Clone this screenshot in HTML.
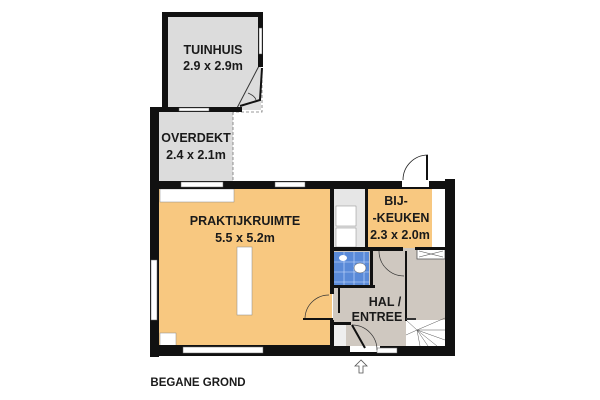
<!DOCTYPE html>
<html><head><style>
body{margin:0;background:#fff;}
svg{display:block}
text{font-family:"Liberation Sans",sans-serif;font-weight:bold;font-size:12.5px;fill:#1a1a1a;text-anchor:middle}
</style></head><body>
<svg width="600" height="400" viewBox="0 0 600 400">
<!-- Tuinhuis -->
<rect x="165" y="14" width="96" height="96" fill="#dcdcdc"/>
<path d="M262 70 L262 112 L233 112" fill="none" stroke="#777" stroke-dasharray="3,2" stroke-width="0.8"/>
<path d="M237 108 L260 64" stroke="#333" stroke-width="1"/>
<path d="M240 106 L260 100 L262 68" fill="none" stroke="#111" stroke-width="2"/>
<path d="M248 93 Q255 96 256 100" fill="none" stroke="#333" stroke-width="0.8"/>
<rect x="162" y="12" width="100" height="5" fill="#111"/>
<rect x="162" y="12" width="6" height="100" fill="#111"/>
<rect x="258" y="12" width="5" height="55" fill="#111"/>
<rect x="259" y="28" width="3" height="26" fill="#fff" stroke="#555" stroke-width="0.5"/>
<rect x="150" y="107" width="92" height="5" fill="#111"/>
<rect x="179" y="108" width="30" height="3" fill="#fff" stroke="#666" stroke-width="0.5"/>
<!-- Overdekt -->
<rect x="159" y="112" width="74" height="70" fill="#dcdcdc"/>
<line x1="233" y1="112" x2="233" y2="182" stroke="#777" stroke-dasharray="3,2" stroke-width="0.8"/>
<rect x="150" y="107" width="9" height="250" fill="#111"/>
<!-- Praktijk -->
<rect x="159" y="189" width="173" height="157" fill="#f8c880"/>
<rect x="160" y="189" width="74" height="13" fill="#fff" stroke="#888" stroke-width="0.5"/>
<rect x="160" y="333" width="16" height="13" fill="#fff" stroke="#888" stroke-width="0.5"/>
<rect x="237" y="247" width="15" height="68" fill="#fff" stroke="#888" stroke-width="0.5"/>
<!-- top wall -->
<rect x="150" y="181" width="305" height="8" fill="#111"/>
<rect x="181" y="182" width="42" height="5" fill="#fff" stroke="#666" stroke-width="0.5"/>
<rect x="275" y="182" width="30" height="5" fill="#fff" stroke="#666" stroke-width="0.5"/>
<rect x="402" y="179" width="27" height="8" fill="#fff"/>
<path d="M428 155 A25 25 0 0 0 403 180" fill="none" stroke="#222" stroke-width="0.8"/>
<rect x="426" y="155" width="2" height="25" fill="#111"/>
<!-- left window -->
<rect x="151" y="260" width="6" height="60" fill="#fff" stroke="#666" stroke-width="0.5"/>
<!-- bottom wall -->
<rect x="150" y="345" width="305" height="11" fill="#111"/>
<rect x="183" y="347" width="80" height="6" fill="#fff" stroke="#666" stroke-width="0.5"/>
<rect x="350" y="346" width="30" height="6" fill="#fff"/>
<rect x="377" y="348" width="20" height="5" fill="#fff" stroke="#666" stroke-width="0.5"/>
<!-- right area -->
<rect x="333" y="189" width="112" height="157" fill="#cfc8c0"/>
<rect x="333" y="189" width="33" height="60" fill="#e6e6e6"/>
<rect x="336" y="206" width="20" height="20" fill="#fff" stroke="#888" stroke-width="0.5"/>
<rect x="336" y="228" width="20" height="19" fill="#fff" stroke="#888" stroke-width="0.5"/>
<rect x="367" y="189" width="65" height="59" fill="#f8c880"/>
<rect x="432" y="189" width="13" height="60" fill="#fff"/>
<rect x="417" y="249" width="28" height="10" fill="#fff" stroke="#555" stroke-width="0.8"/>
<path d="M419 251 L443 257 M419 257 L443 251" stroke="#555" stroke-width="0.6"/>
<rect x="334" y="252" width="35" height="34" fill="#5a8ad8"/>
<path d="M334 262h35M334 272h35M334 282h35M344 252v34M354 252v34M364 252v34" stroke="#cfe0ff" stroke-width="0.6"/>
<ellipse cx="343" cy="258" rx="4" ry="3" fill="#fff"/>
<ellipse cx="360" cy="268" rx="6" ry="5" fill="#fff" stroke="#555" stroke-width="0.5"/>
<rect x="406" y="320" width="39" height="26" fill="#fff"/>
<path d="M417 330 L406 320 M417 330 L406 335 M417 330 L420 346 M417 330 L428 346 M417 330 L437 346 M417 330 L445 340 M417 330 L445 330 M417 330 L445 318" stroke="#555" stroke-width="0.5"/>
<rect x="334" y="324" width="12" height="22" fill="#eee"/>
<!-- interior walls -->
<rect x="330" y="189" width="4" height="105" fill="#111"/>
<rect x="330" y="320" width="4" height="26" fill="#111"/>
<rect x="303" y="318" width="30" height="2" fill="#111"/>
<path d="M305 318 A24 24 0 0 1 329 295" fill="none" stroke="#333" stroke-width="0.7"/>
<rect x="333" y="247" width="70" height="4" fill="#111"/>
<rect x="415" y="247" width="30" height="3" fill="#111"/>
<rect x="365" y="189" width="3" height="60" fill="#111"/>
<rect x="334" y="285" width="41" height="3" fill="#111"/>
<rect x="370" y="251" width="3" height="36" fill="#111"/>
<rect x="338" y="288" width="2" height="25" fill="#111"/>
<rect x="334" y="322" width="17" height="3" fill="#111"/>
<rect x="405" y="251" width="2" height="70" fill="#111"/>
<rect x="406" y="318" width="10" height="2" fill="#333"/>
<path d="M379 251 A25 25 0 0 0 404 276" fill="none" stroke="#333" stroke-width="0.7"/>
<path d="M352 325 A25 25 0 0 1 377 350" fill="none" stroke="#333" stroke-width="0.7"/>
<path d="M352 325 L365 348" stroke="#111" stroke-width="2"/>
<rect x="445" y="179" width="10" height="177" fill="#111"/>
<!-- entrance arrow -->
<path d="M361 360 L355 366 L359 366 L359 373 L363 373 L363 366 L367 366 Z" fill="#fff" stroke="#555" stroke-width="0.8"/>
<!-- labels -->
<text x="213" y="54">TUINHUIS</text>
<text x="213" y="70">2.9 x 2.9m</text>
<text x="196" y="142">OVERDEKT</text>
<text x="196" y="159">2.4 x 2.1m</text>
<text x="245" y="225">PRAKTIJKRUIMTE</text>
<text x="245" y="242">5.5 x 5.2m</text>
<text x="396" y="205">BIJ-</text>
<text x="401" y="222">-KEUKEN</text>
<text x="400" y="239">2.3 x 2.0m</text>
<text x="385" y="306">HAL /</text>
<text x="377" y="321">ENTREE</text>
<text x="198" y="386" style="font-size:11.5px">BEGANE GROND</text>
</svg>
</body></html>
